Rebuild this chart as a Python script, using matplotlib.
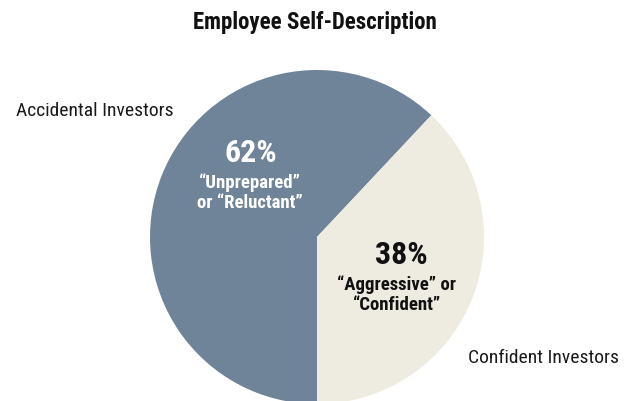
import matplotlib
matplotlib.use('Agg')

import matplotlib.pyplot as plt

# data
groups = ['Accidental Investors', 'Confident Investors']
shares = [62, 38]
descriptions = ['\u201cUnprepared\u201d\nor \u201cReluctant\u201d',
                '\u201cAggressive\u201d or\n\u201cConfident\u201d']
title = 'Employee Self-Description'

colors = ['#6f8399', '#eeebe0']
font = ['Roboto Condensed', 'DejaVu Sans']
W, H = 628, 402

fig = plt.figure(figsize=(W / 100, H / 100), dpi=100)
ax = fig.add_axes([0, 0, 1, 1])

# pie in pixel coords (y up), blue slice ends at the bottom
ax.pie(shares, colors=colors, startangle=-90 + 3.6 * shares[1],
       center=(317, H - 238), radius=167, frame=True,
       wedgeprops={'linewidth': 0})
ax.set_xlim(0, W)
ax.set_ylim(0, H)
ax.axis('off')

ax.text(315, H - 23, title, ha='center', va='center', fontsize=16.5,
        fontweight='bold', family=font, color='#111111')

# outside group labels
ax.text(16, H - 111, groups[0], ha='left', va='center', fontsize=14,
        family=font, color='#1a1a1a')
ax.text(468, H - 358, groups[1], ha='left', va='center', fontsize=14,
        family=font, color='#1a1a1a')

# inside labels
ax.text(251, H - 153, f'{shares[0]}%', ha='center', va='center', fontsize=23,
        fontweight='bold', family=font, color='white')
ax.text(250, H - 193, descriptions[0], ha='center', va='center', fontsize=13.5,
        fontweight='bold', family=font, color='white', linespacing=1.15)

ax.text(401, H - 255, f'{shares[1]}%', ha='center', va='center', fontsize=23,
        fontweight='bold', family=font, color='#111111')
ax.text(397, H - 295, descriptions[1], ha='center', va='center', fontsize=13.5,
        fontweight='bold', family=font, color='#111111', linespacing=1.15)

fig.savefig('out.png', dpi=100)
